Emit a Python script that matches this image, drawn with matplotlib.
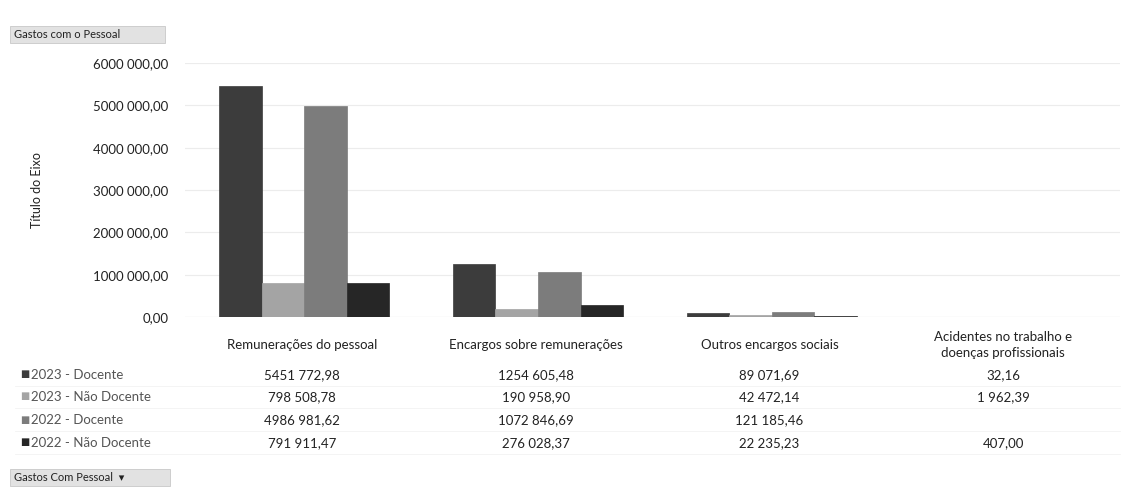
import numpy as np
import matplotlib.pyplot as plt
from matplotlib.patches import FancyBboxPatch
from matplotlib.transforms import blended_transform_factory

plt.rcParams['font.family'] = ['Lato', 'DejaVu Sans']

categories = ['Remunerações do pessoal', 'Encargos sobre remunerações',
              'Outros encargos sociais', 'Acidentes no trabalho e\ndoenças profissionais']
series_names = ['2023 - Docente', '2023 - Não Docente', '2022 - Docente', '2022 - Não Docente']
docente_2023 = [5451772.98, 1254605.48, 89071.69, 32.16]
nao_docente_2023 = [798508.78, 190958.90, 42472.14, 1962.39]
docente_2022 = [4986981.62, 1072846.69, 121185.46, np.nan]
nao_docente_2022 = [791911.47, 276028.37, 22235.23, 407.00]
colors = ['#3c3c3c', '#a4a4a4', '#7c7c7c', '#262626']
yticks = [0, 1000000, 2000000, 3000000, 4000000, 5000000, 6000000]


def fmt(v):
    if v is None or np.isnan(v):
        return ''
    s = f'{v:,.2f}'.replace(',', ' ').replace('.', ',')
    if v >= 1e6:
        s = s.replace(' ', '', 1)
    return s


series = [docente_2023, nao_docente_2023, docente_2022, nao_docente_2022]

fig = plt.figure(figsize=(11.27, 4.93), dpi=100)
ax = fig.add_axes([0.164, 0.357, 0.83, 0.515])

x = np.arange(len(categories))
w = 0.182
for i, (vals, c) in enumerate(zip(series, colors)):
    ax.bar(x + (i - 1.5) * w + 0.01, vals, w, color=c, edgecolor=c, linewidth=0.5, zorder=3)

ax.set_xlim(-0.5, len(categories) - 0.5)
ax.set_ylim(0, 6000000)
ax.set_yticks(yticks)
ax.set_yticklabels([fmt(v) if v > 0 else '0,00' for v in yticks], fontsize=9.5, color='#222222')
ax.yaxis.grid(True, color='#ececec', linewidth=0.8, zorder=0)
ax.tick_params(axis='y', length=0, pad=12)
ax.set_xticks(x)
ax.set_xticklabels([])
ax.tick_params(axis='x', length=0)
for s in ax.spines.values():
    s.set_visible(False)
ax.axhline(0, color='#dcdcdc', linewidth=0.8, zorder=2)
ax.set_ylabel('Título do Eixo', fontsize=9, color='#222222', labelpad=36)

trans = blended_transform_factory(ax.transData, fig.transFigure)
cat_y = 1 - 345 / 493
for xi, lab in zip(x, categories):
    ax.text(xi, cat_y, lab, transform=trans, ha='center', va='center',
            fontsize=9.5, color='#222222', linespacing=1.4)

row_y = [375, 397, 420, 443]
for name, vals, c, ry in zip(series_names, series, colors, row_y):
    fy = 1 - ry / 493
    fig.text(20 / 1127, fy, '■', fontsize=7, color=c, ha='left', va='center')
    fig.text(31 / 1127, fy, name, fontsize=9.5, color='#555555', ha='left', va='center')
    for xi, v in zip(x, vals):
        ax.text(xi, fy, fmt(v), transform=trans, ha='center', va='center',
                fontsize=9.5, color='#222222')
    fig.add_artist(plt.Line2D([15 / 1127, 1120 / 1127], [fy - 11 / 493] * 2,
                              color='#f3f3f3', linewidth=0.6))

# pivot field buttons
for (bx, by, bw, txt) in [(10, 26, 155, 'Gastos com o Pessoal'),
                          (10, 469, 160, 'Gastos Com Pessoal  ▾')]:
    box = FancyBboxPatch((bx / 1127, 1 - (by + 17) / 493), bw / 1127, 17 / 493,
                         boxstyle='square,pad=0', transform=fig.transFigure,
                         facecolor='#e2e2e2', edgecolor='#c8c8c8', linewidth=0.6)
    fig.add_artist(box)
    fig.text((bx + 4) / 1127, 1 - (by + 8.5) / 493, txt, fontsize=8, color='#222222',
             ha='left', va='center', family=['Lato', 'DejaVu Sans'])

fig.savefig('out.png', dpi=100)
